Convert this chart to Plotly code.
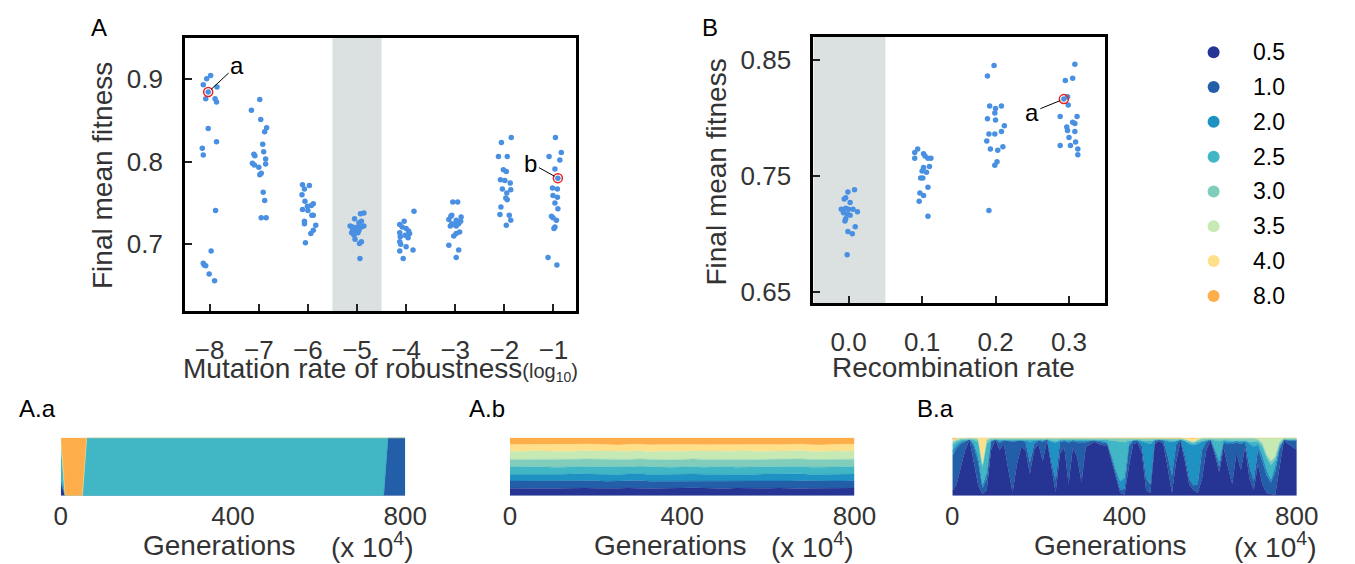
import plotly.graph_objects as go

FIG_W, FIG_H = 1355, 564
FONT = "Liberation Sans, Arial, sans-serif"
TXT = "#333333"

# ---------------- Panel A : final mean fitness vs mutation rate of robustness ----------------
mut_rates = [-8, -7, -6, -5, -4, -3, -2, -1]
A_fit_m8 = [0.900, 0.904, 0.893, 0.884, 0.890, 0.876, 0.876, 0.872, 0.840, 0.824, 0.816, 0.808, 0.741, 0.692, 0.677, 0.675, 0.674, 0.664, 0.656]
A_jit_m8 = [-0.06, 0.02, -0.13, -0.03, 0.15, -0.08, 0.11, 0.14, -0.03, 0.14, -0.15, -0.13, 0.12, 0.03, -0.13, -0.11, -0.08, -0.01, 0.10]
A_fit_m7 = [0.875, 0.862, 0.851, 0.841, 0.836, 0.821, 0.809, 0.807, 0.812, 0.803, 0.798, 0.796, 0.793, 0.797, 0.786, 0.784, 0.763, 0.753, 0.732, 0.732]
A_jit_m7 = [0.02, -0.15, 0.04, 0.16, 0.12, 0.08, -0.10, -0.08, 0.10, 0.14, -0.13, -0.09, 0.00, 0.14, 0.05, 0.02, 0.09, 0.12, 0.05, 0.15]
A_fit_m6 = [0.772, 0.771, 0.767, 0.760, 0.752, 0.749, 0.747, 0.746, 0.742, 0.741, 0.735, 0.735, 0.728, 0.725, 0.723, 0.717, 0.713, 0.702]
A_jit_m6 = [-0.11, 0.03, -0.07, -0.12, -0.06, 0.11, 0.07, -0.01, -0.11, 0.00, 0.08, 0.11, -0.07, -0.07, 0.16, 0.11, 0.06, -0.05]
A_fit_m5 = [0.738, 0.737, 0.731, 0.728, 0.726, 0.722, 0.721, 0.721, 0.721, 0.722, 0.717, 0.717, 0.717, 0.714, 0.714, 0.711, 0.706, 0.703, 0.701, 0.683]
A_jit_m5 = [0.14, 0.07, -0.05, 0.09, 0.04, -0.14, -0.09, 0.01, 0.09, 0.14, -0.09, -0.03, 0.04, -0.11, 0.02, -0.06, -0.04, 0.09, 0.05, 0.06]
A_fit_m4 = [0.740, 0.728, 0.724, 0.721, 0.719, 0.716, 0.713, 0.714, 0.711, 0.709, 0.708, 0.703, 0.700, 0.697, 0.692, 0.693, 0.683]
A_jit_m4 = [0.16, -0.04, -0.13, -0.08, 0.00, 0.05, 0.07, -0.13, -0.02, -0.12, 0.04, -0.13, -0.11, 0.00, -0.13, 0.14, -0.06]
A_fit_m3 = [0.751, 0.751, 0.735, 0.734, 0.733, 0.730, 0.729, 0.728, 0.725, 0.724, 0.725, 0.722, 0.722, 0.715, 0.713, 0.710, 0.699, 0.693, 0.684]
A_jit_m3 = [-0.05, 0.05, -0.07, -0.09, 0.12, -0.13, 0.02, 0.11, -0.07, -0.02, 0.07, 0.02, -0.10, 0.09, 0.02, -0.03, -0.13, 0.07, 0.02]
A_fit_m2 = [0.829, 0.823, 0.806, 0.806, 0.790, 0.788, 0.778, 0.777, 0.774, 0.767, 0.766, 0.762, 0.756, 0.754, 0.745, 0.736, 0.735, 0.729, 0.723]
A_jit_m2 = [0.14, -0.06, -0.12, 0.06, -0.02, 0.04, -0.08, 0.01, 0.12, -0.04, 0.13, 0.05, 0.03, 0.06, -0.07, -0.09, 0.10, 0.13, 0.04]
A_fit_m1 = [0.829, 0.806, 0.811, 0.802, 0.791, 0.780, 0.768, 0.767, 0.759, 0.757, 0.750, 0.743, 0.734, 0.732, 0.729, 0.721, 0.719, 0.684, 0.675]
A_jit_m1 = [0.04, -0.09, 0.16, 0.13, 0.03, 0.09, -0.02, 0.08, -0.01, 0.08, 0.03, 0.09, -0.04, -0.01, 0.06, 0.03, 0.01, -0.11, 0.07]
A_highlight_a = (0, 3)   # (group index, point index)
A_highlight_b = (7, 5)
A_shaded_rate = -5

# ---------------- Panel B : final mean fitness vs recombination rate ----------------
rec_rates = [0.0, 0.1, 0.2, 0.3]
B_fit_r0 = [0.738, 0.736, 0.731, 0.730, 0.727, 0.721, 0.722, 0.721, 0.721, 0.719, 0.718, 0.717, 0.716, 0.713, 0.711, 0.706, 0.702, 0.700, 0.682]
B_jit_r0 = [0.008, -0.001, -0.004, -0.006, 0.002, -0.010, -0.004, 0.000, 0.006, 0.012, -0.007, -0.002, 0.002, -0.004, -0.005, 0.009, -0.001, 0.005, -0.002]
B_fit_r1 = [0.773, 0.770, 0.769, 0.767, 0.765, 0.765, 0.765, 0.757, 0.758, 0.754, 0.753, 0.748, 0.748, 0.740, 0.735, 0.733, 0.728, 0.715]
B_jit_r1 = [-0.006, -0.010, 0.002, 0.004, -0.010, 0.008, 0.012, 0.002, 0.010, 0.000, 0.006, -0.002, 0.001, 0.008, -0.003, 0.002, -0.004, 0.008]
B_fit_r2 = [0.845, 0.836, 0.810, 0.810, 0.808, 0.804, 0.799, 0.798, 0.793, 0.788, 0.786, 0.786, 0.780, 0.775, 0.773, 0.772, 0.762, 0.759, 0.720]
B_jit_r2 = [-0.002, -0.011, -0.008, 0.008, 0.000, -0.001, -0.011, 0.000, 0.012, 0.008, -0.009, -0.001, -0.012, 0.010, -0.007, 0.003, 0.002, -0.001, -0.009]
B_fit_r3 = [0.846, 0.832, 0.834, 0.818, 0.816, 0.811, 0.801, 0.801, 0.796, 0.795, 0.792, 0.789, 0.788, 0.783, 0.776, 0.776, 0.779, 0.773, 0.768]
B_jit_r3 = [0.008, -0.005, 0.005, -0.002, -0.007, -0.001, -0.012, 0.011, 0.005, 0.008, -0.003, -0.002, 0.008, 0.000, -0.012, 0.002, 0.009, 0.012, 0.012]
B_highlight_a = (3, 4)
B_shaded_rate = 0.0

# ---------------- Legend : robustness levels ----------------
robust_levels = ["0.5", "1.0", "2.0", "2.5", "3.0", "3.5", "4.0", "8.0"]
level_colors = ["#263593", "#235fa9", "#1e92c2", "#41b6c4", "#80cdbb", "#c7e9b4", "#fee08b", "#fdae4b"]

# ---------------- A.a : composition over generations (x 10^4) ----------------
gen_Aa = [0, 10, 50, 60, 750, 760, 800]
Aa_05 = [20, 0, 0, 0, 0, 0, 0]
Aa_10 = [5, 0, 0, 0, 0, 100, 100]
Aa_20 = [5, 0, 0, 0, 0, 0, 0]
Aa_25 = [55, 0, 0, 100, 100, 0, 0]
Aa_30 = [10, 0, 0, 0, 0, 0, 0]
Aa_35 = [5, 0, 0, 0, 0, 0, 0]
Aa_40 = [0, 0, 0, 0, 0, 0, 0]
Aa_80 = [0, 100, 100, 0, 0, 0, 0]

# ---------------- A.b ----------------
gen_Ab = [0, 25, 50, 75, 100, 125, 150, 175, 200, 225, 250, 275, 300, 325, 350, 375, 400,
          425, 450, 475, 500, 525, 550, 575, 600, 625, 650, 675, 700, 725, 750, 775, 800]
Ab_05 = [13.2, 12.8, 13.5, 13.1, 12.6, 13.0, 13.8, 13.3, 12.9, 12.4, 13.1, 13.6, 13.0, 12.7, 13.3, 12.9, 13.4, 13.9, 13.2, 12.6, 12.8, 13.5, 13.1, 12.7, 13.2, 13.6, 12.9, 12.5, 13.0, 13.4, 12.8, 13.1, 13.3]
Ab_10 = [12.3, 12.9, 12.1, 12.6, 13.2, 12.4, 11.9, 12.7, 13.0, 12.5, 12.2, 12.8, 13.3, 12.6, 12.0, 12.9, 12.4, 11.8, 12.5, 13.1, 12.7, 12.2, 12.6, 13.0, 12.3, 11.9, 12.8, 13.2, 12.5, 12.1, 12.9, 12.4, 12.6]
Ab_20 = [11.6, 11.2, 11.9, 11.4, 11.0, 11.7, 12.1, 11.3, 11.5, 12.0, 11.4, 11.1, 11.8, 11.6, 12.2, 11.3, 11.7, 12.0, 11.5, 11.2, 11.9, 11.4, 11.0, 11.6, 12.1, 11.5, 11.3, 11.8, 11.4, 11.9, 11.2, 11.6, 11.5]
Ab_25 = [12.4, 12.9, 12.2, 12.7, 12.5, 12.0, 12.6, 13.1, 12.3, 12.8, 12.5, 12.1, 12.7, 13.0, 12.4, 12.2, 12.9, 12.5, 12.0, 12.6, 13.0, 12.3, 12.8, 12.4, 12.1, 12.7, 13.1, 12.5, 12.2, 12.6, 12.9, 12.4, 12.5]
Ab_30 = [13.0, 12.6, 13.3, 12.9, 13.4, 12.8, 12.5, 13.1, 13.5, 12.7, 13.2, 12.9, 12.4, 13.0, 13.6, 12.8, 12.6, 13.2, 13.4, 12.9, 12.5, 13.1, 13.3, 12.7, 13.0, 13.5, 12.8, 12.6, 13.2, 12.9, 13.1, 13.4, 13.0]
Ab_35 = [14.1, 13.7, 14.4, 14.0, 13.6, 14.3, 13.9, 14.5, 13.8, 14.2, 13.5, 14.0, 14.4, 13.7, 14.1, 14.6, 13.9, 13.6, 14.2, 14.0, 13.7, 14.3, 14.5, 13.8, 14.1, 13.6, 14.2, 14.4, 13.9, 14.0, 14.3, 13.8, 14.1]
Ab_40 = [11.5, 11.9, 11.2, 11.6, 11.8, 11.3, 11.7, 11.1, 11.5, 11.9, 11.4, 11.6, 11.2, 11.8, 11.3, 11.5, 11.9, 11.4, 11.1, 11.7, 11.6, 11.2, 11.4, 11.8, 11.5, 11.3, 11.7, 11.0, 11.6, 11.4, 11.2, 11.8, 11.5]
Ab_80 = [11.9, 12.0, 11.4, 11.7, 11.9, 12.5, 11.5, 10.9, 11.5, 11.5, 12.7, 11.9, 11.2, 12.4, 12.1, 12.3, 11.8, 11.6, 12.1, 11.9, 11.8, 12.1, 11.3, 12.0, 11.7, 12.1, 11.2, 11.0, 12.2, 12.7, 11.6, 11.3, 11.5]

# ---------------- B.a ----------------
gen_Ba = list(range(0, 801, 10))
Ba_05 = [8, 20, 50, 80, 97, 55, 18, 3, 10, 80,
         97, 80, 90, 45, 6, 55, 85, 80, 38, 80,
         90, 60, 97, 50, 6, 73, 85, 20, 85, 67,
         23, 85, 90, 94, 90, 88, 88, 60, 30, 5,
         2, 50, 90, 92, 75, 10, 5, 90, 95, 90,
         50, 5, 60, 95, 60, 20, 10, 5, 30, 80,
         95, 70, 40, 85, 50, 20, 75, 45, 85, 30,
         10, 55, 20, 5, 3, 2, 50, 95, 90, 85, 80]
Ba_10 = [60, 62, 40, 14, 1, 30, 40, 10, 20, 14,
         1, 12, 6, 50, 88, 40, 11, 14, 20, 10,
         6, 34, 1, 10, 20, 20, 10, 72, 10, 26,
         70, 8, 5, 2, 4, 4, 3, 5, 5, 5,
         10, 35, 6, 4, 12, 20, 15, 5, 2, 6,
         20, 30, 30, 2, 10, 10, 8, 15, 50, 14,
         2, 5, 10, 8, 40, 70, 18, 45, 8, 20,
         15, 25, 40, 30, 20, 40, 30, 2, 6, 11, 16]
Ba_20 = [10, 6, 3, 2, 0, 5, 10, 5, 10, 1,
         0, 4, 1, 1, 2, 1, 1, 2, 36, 6,
         1, 2, 0, 34, 66, 3, 2, 3, 2, 3,
         2, 3, 1, 1, 2, 3, 2, 5, 10, 15,
         20, 5, 1, 1, 8, 62, 70, 2, 1, 1,
         25, 58, 5, 1, 25, 60, 70, 70, 14, 2,
         1, 5, 10, 2, 4, 4, 2, 4, 2, 40,
         60, 8, 10, 10, 5, 10, 5, 0, 1, 1, 1]
Ba_25 = [10, 5, 3, 2, 0, 6, 25, 30, 50, 2,
         0, 1, 1, 1, 1, 1, 0, 1, 2, 1,
         0, 1, 0, 2, 3, 1, 0, 1, 0, 1,
         1, 1, 1, 1, 1, 2, 4, 26, 50, 68,
         60, 5, 0, 0, 1, 3, 5, 0, 0, 0,
         2, 3, 1, 0, 1, 3, 3, 4, 2, 1,
         0, 15, 34, 2, 2, 2, 1, 2, 1, 4,
         8, 5, 15, 20, 25, 10, 3, 0, 0, 0, 0]
Ba_30 = [4, 3, 2, 2, 2, 3, 4, 4, 6, 3,
         2, 3, 2, 3, 3, 3, 3, 3, 4, 3,
         3, 3, 2, 4, 5, 3, 3, 4, 3, 3,
         4, 3, 3, 2, 3, 3, 3, 4, 5, 6,
         6, 4, 3, 3, 4, 5, 5, 3, 2, 3,
         3, 4, 4, 2, 2, 2, 2, 3, 4, 3,
         2, 4, 5, 3, 4, 4, 4, 4, 4, 6,
         6, 4, 5, 5, 7, 5, 4, 2, 3, 3, 3]
Ba_35 = [2, 2, 2, 1, 1, 1, 3, 3, 4, 1,
         1, 1, 1, 1, 1, 1, 1, 1, 1, 1,
         1, 1, 1, 1, 1, 1, 1, 1, 1, 1,
         1, 1, 1, 1, 1, 1, 1, 1, 1, 1,
         2, 1, 1, 1, 1, 1, 1, 1, 1, 1,
         1, 1, 1, 1, 1, 1, 1, 1, 1, 1,
         1, 1, 1, 1, 1, 1, 1, 1, 1, 1,
         1, 3, 10, 30, 40, 33, 8, 1, 1, 1, 1]
Ba_40 = [2, 1, 0, 0, 0, 0, 0, 45, 0, 0,
         0, 0, 0, 0, 0, 0, 0, 0, 0, 0,
         0, 0, 0, 0, 0, 0, 0, 0, 0, 0,
         0, 0, 0, 0, 0, 0, 0, 0, 0, 0,
         0, 0, 0, 0, 0, 0, 0, 0, 0, 0,
         0, 0, 0, 0, 2, 4, 5, 3, 0, 0,
         0, 0, 0, 0, 0, 0, 0, 0, 0, 0,
         0, 0, 0, 0, 0, 0, 0, 0, 0, 0, 0]
Ba_80 = [4, 1, 0, 0, 0, 0, 0, 0, 0, 0,
         0, 0, 0, 0, 0, 0, 0, 0, 0, 0,
         0, 0, 0, 0, 0, 0, 0, 0, 0, 0,
         0, 0, 0, 0, 0, 0, 0, 0, 0, 0,
         0, 0, 0, 0, 0, 0, 0, 0, 0, 0,
         0, 0, 0, 0, 0, 1, 2, 0, 0, 0,
         0, 0, 0, 0, 0, 0, 0, 0, 0, 0,
         0, 0, 0, 0, 0, 0, 0, 0, 0, 0, 0]

gen_ticks = [0, 400, 800]

# ---------------- helpers ----------------
def px(x):
    return x / FIG_W


def py(y):
    return 1 - y / FIG_H


POINT_COLOR = "#4a90e2"
BAND_COLOR = "#dbe1e0"

fig = go.Figure()

# Panel A scatter
A_groups = [A_fit_m8, A_fit_m7, A_fit_m6, A_fit_m5, A_fit_m4, A_fit_m3, A_fit_m2, A_fit_m1]
A_jits = [A_jit_m8, A_jit_m7, A_jit_m6, A_jit_m5, A_jit_m4, A_jit_m3, A_jit_m2, A_jit_m1]
A_x, A_y = [], []
for rate, fits, jits in zip(mut_rates, A_groups, A_jits):
    A_x += [rate + j for j in jits]
    A_y += fits
fig.add_trace(go.Scatter(x=A_x, y=A_y, mode="markers", xaxis="x", yaxis="y",
                         marker=dict(color=POINT_COLOR, size=5.5), hoverinfo="skip"))
A_hx, A_hy = [], []
for gi, pi in [A_highlight_a, A_highlight_b]:
    A_hx.append(mut_rates[gi] + A_jits[gi][pi])
    A_hy.append(A_groups[gi][pi])
fig.add_trace(go.Scatter(x=A_hx, y=A_hy, mode="markers", xaxis="x", yaxis="y",
                         marker=dict(symbol="circle-open", color="#e8231f", size=9, line=dict(width=1.5)),
                         hoverinfo="skip"))

# Panel B scatter
B_groups = [B_fit_r0, B_fit_r1, B_fit_r2, B_fit_r3]
B_jits = [B_jit_r0, B_jit_r1, B_jit_r2, B_jit_r3]
B_x, B_y = [], []
for rate, fits, jits in zip(rec_rates, B_groups, B_jits):
    B_x += [rate + j for j in jits]
    B_y += fits
fig.add_trace(go.Scatter(x=B_x, y=B_y, mode="markers", xaxis="x2", yaxis="y2",
                         marker=dict(color=POINT_COLOR, size=5.5), hoverinfo="skip"))
gi, pi = B_highlight_a
B_hx = [rec_rates[gi] + B_jits[gi][pi]]
B_hy = [B_groups[gi][pi]]
fig.add_trace(go.Scatter(x=B_hx, y=B_hy, mode="markers", xaxis="x2", yaxis="y2",
                         marker=dict(symbol="circle-open", color="#e8231f", size=9, line=dict(width=1.5)),
                         hoverinfo="skip"))

# Stacked composition panels
stack_sets = [
    ("Aa", gen_Aa, [Aa_05, Aa_10, Aa_20, Aa_25, Aa_30, Aa_35, Aa_40, Aa_80], "x3", "y3"),
    ("Ab", gen_Ab, [Ab_05, Ab_10, Ab_20, Ab_25, Ab_30, Ab_35, Ab_40, Ab_80], "x4", "y4"),
    ("Ba", gen_Ba, [Ba_05, Ba_10, Ba_20, Ba_25, Ba_30, Ba_35, Ba_40, Ba_80], "x5", "y5"),
]
for name, gens, series, xa, ya in stack_sets:
    for k, (vals, col) in enumerate(zip(series, level_colors)):
        fig.add_trace(go.Scatter(
            x=gens, y=vals, mode="lines", stackgroup=name,
            groupnorm="percent" if k == 0 else None,
            line=dict(width=0.4, color=col), fillcolor=col,
            xaxis=xa, yaxis=ya, hoverinfo="skip"))

# Legend (drawn on its own small axis)
leg_rows = list(range(len(robust_levels)))
fig.add_trace(go.Scatter(x=[1233] * len(robust_levels), y=leg_rows, mode="markers",
                         xaxis="x6", yaxis="y6",
                         marker=dict(color=level_colors, size=12), hoverinfo="skip"))

# ---------------- axes ----------------
tickfont = dict(family=FONT, size=26, color=TXT)
frame = dict(showgrid=False, zeroline=False, showline=True, linecolor="black", linewidth=3,
             mirror=True, ticks="inside", ticklen=7, tickwidth=2, tickcolor="#222222",
             tickfont=tickfont)

A_xrange = [-8.5, -0.55]
A_yrange = [0.619, 0.9496]
B_xrange = [-0.048, 0.349]
B_yrange = [0.64, 0.8697]

layout_axes = dict(
    xaxis=dict(domain=[px(182), px(581)], range=A_xrange, tickvals=mut_rates,
               anchor="y", ticklabelstandoff=13, **frame),
    yaxis=dict(domain=[py(313), py(38)], range=A_yrange, tickvals=[0.7, 0.8, 0.9],
               tickformat=".1f", anchor="x", ticklabelstandoff=14, **frame),
    xaxis2=dict(domain=[px(824), px(1122)], range=B_xrange, tickvals=rec_rates,
                tickformat=".1f", anchor="y2", ticklabelstandoff=13, **frame),
    yaxis2=dict(domain=[py(305), py(37)], range=B_yrange, tickvals=[0.65, 0.75, 0.85],
                tickformat=".2f", anchor="x2", ticklabelstandoff=14, **frame),
)
bottom_domains = {"3": [55, 407], "4": [514, 866], "5": [966, 1318]}
for k, (x0, x1) in bottom_domains.items():
    layout_axes["xaxis" + k] = dict(domain=[px(x0), px(x1)], range=[0, 800], tickvals=gen_ticks,
                                    showgrid=False, zeroline=False, showline=False, ticks="",
                                    tickfont=tickfont, anchor="y" + k, ticklabelstandoff=2)
    layout_axes["yaxis" + k] = dict(domain=[py(498.5), py(440)], range=[0, 100], visible=False,
                                    anchor="x" + k)
layout_axes["xaxis6"] = dict(domain=[px(1220), px(1320)], range=[1220, 1320], visible=False, anchor="y6")
layout_axes["yaxis6"] = dict(domain=[py(315), py(35)], range=[7.5, -0.5], visible=False, anchor="x6")

# ---------------- shapes (highlight bands) ----------------
shapes = [
    dict(type="rect", xref="x", yref="y domain", x0=A_shaded_rate - 0.5, x1=A_shaded_rate + 0.5,
         y0=0, y1=1, fillcolor=BAND_COLOR, line=dict(width=0), layer="below"),
    dict(type="rect", xref="x2", yref="y2 domain", x0=B_xrange[0], x1=B_shaded_rate + 0.05,
         y0=0, y1=1, fillcolor=BAND_COLOR, line=dict(width=0), layer="below"),
]

# ---------------- annotations ----------------
def label(text, x, y, size=28, color=TXT, xanchor="center", angle=0):
    return dict(text=text, x=px(x), y=py(y), xref="paper", yref="paper", showarrow=False,
                xanchor=xanchor, yanchor="middle", textangle=angle,
                font=dict(family=FONT, size=size, color=color))


annotations = [
    label("Final mean fitness", 97, 176, angle=-90),
    label("Mutation rate of robustness<span style='font-size:20px'>(log<sub>10</sub>)</span>", 382, 371),
    label("Final mean fitness", 725, 173, angle=-90),
    label("Recombination rate", 967, 369),
    label("A", 94, 28, size=24, color="black"),
    label("B", 718, 28, size=24, color="black"),
    label("A.a", 10, 411, size=24, color="black", xanchor="left"),
    label("A.b", 470, 411, size=24, color="black", xanchor="left"),
    label("B.a", 928, 411, size=24, color="black", xanchor="left"),
]
for gx, ux in [(217.5, 373), (677.5, 823), (1127.5, 1296)]:
    annotations.append(label("Generations", gx, 548))
    annotations.append(label("(x 10<sup>4</sup>)", ux, 548))

# legend texts
for i, lev in enumerate(robust_levels):
    annotations.append(dict(text=lev, x=1271, y=i, xref="x6", yref="y6", showarrow=False,
                            xanchor="left", yanchor="middle",
                            font=dict(family=FONT, size=23, color="black")))

# point call-outs
arrow_style = dict(showarrow=True, arrowhead=0, arrowwidth=1, arrowcolor="black", standoff=4,
                   font=dict(family=FONT, size=24, color="black"), axref="pixel", ayref="pixel")
annotations.append(dict(text="a", x=A_hx[0], y=A_hy[0], xref="x", yref="y", ax=29, ay=-27, **arrow_style))
annotations.append(dict(text="b", x=A_hx[1], y=A_hy[1], xref="x", yref="y", ax=-27, ay=-15, **arrow_style))
annotations.append(dict(text="a", x=B_hx[0], y=B_hy[0], xref="x2", yref="y2", ax=-32, ay=13, **arrow_style))

fig.update_layout(
    width=FIG_W, height=FIG_H, margin=dict(l=0, r=0, t=0, b=0),
    paper_bgcolor="white", plot_bgcolor="white", showlegend=False,
    font=dict(family=FONT, color=TXT),
    shapes=shapes, annotations=annotations,
    **layout_axes,
)

fig.write_html("out.html", config={"displayModeBar": False},
               post_script="document.body.style.margin='0px';document.body.style.overflow='hidden';")
